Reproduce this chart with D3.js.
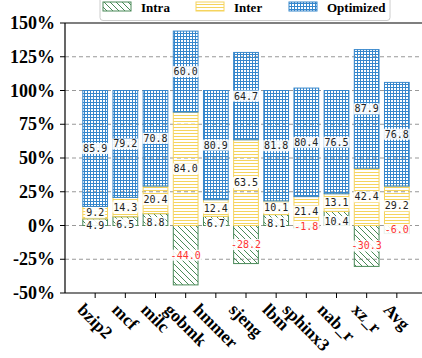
<!DOCTYPE html>
<html><head><meta charset="utf-8">
<script src="https://cdn.jsdelivr.net/npm/d3@7"></script>
<style>html,body{margin:0;padding:0;background:#fff;}</style>
</head><body>
<svg id="chart" width="422" height="358"></svg>
<script>
const categories = ["bzip2","mcf","milc","gobmk","hmmer","sjeng","lbm","sphinx3","nab_r","xz_r","Avg"];
const intra = [4.9, 6.5, 8.8, -44.0, 6.7, -28.2, 8.1, -1.8, 10.4, -30.3, -6.0];
const inter = [9.2, 14.3, 20.4, 84.0, 12.4, 63.5, 10.1, 21.4, 13.1, 42.4, 29.2];
const optimized = [85.9, 79.2, 70.8, 60.0, 80.9, 64.7, 81.8, 80.4, 76.5, 87.9, 76.8];
const yTicks = [-50, -25, 0, 25, 50, 75, 100, 125, 150];
const seriesNames = ["Intra", "Inter", "Optimized"];

const svg = d3.select("#chart");
const colors = {Intra: "#4a8a58", Inter: "#f5d45e", Optimized: "#3687cc"};
const serif = "'Liberation Serif','Times New Roman',serif";
const mono = "'DejaVu Sans Mono',monospace";

const x = d3.scaleLinear().domain([-1, 11]).range([65, 427]);
const y = d3.scaleLinear().domain([-50, 150]).range([293, 23]);
const barW = x(0.82) - x(0);

// patterns
const defs = svg.append("defs");
const pIntra = defs.append("pattern").attr("id","p-Intra").attr("patternUnits","userSpaceOnUse").attr("width",6).attr("height",6);
pIntra.append("path").attr("d","M0,0L6,6M-1,5L1,7M5,-1L7,1").attr("stroke",colors.Intra).attr("stroke-width",1).attr("fill","none");
const pInter = defs.append("pattern").attr("id","p-Inter").attr("patternUnits","userSpaceOnUse").attr("width",4).attr("height",3);
pInter.append("path").attr("d","M0,1.5H4").attr("stroke",colors.Inter).attr("stroke-width",1).attr("fill","none");
const pOpt = defs.append("pattern").attr("id","p-Optimized").attr("patternUnits","userSpaceOnUse").attr("width",3).attr("height",3);
pOpt.append("path").attr("d","M0,0.5H3M0.5,0V3").attr("stroke",colors.Optimized).attr("stroke-width",1).attr("fill","none");

// gridlines
svg.append("g").selectAll("line").data(yTicks.filter(t => t > -50 && t < 150)).join("line")
  .attr("x1", 65).attr("x2", 422).attr("y1", d => y(d)).attr("y2", d => y(d))
  .attr("stroke", "#999").attr("stroke-width", 1.1).attr("stroke-dasharray", "4,3");

// stacked segments
const segs = [];
const labels = [];
categories.forEach((c, i) => {
  const a = intra[i], b = inter[i], o = optimized[i];
  const base = a > 0 ? a : 0;
  segs.push({i, s: "Intra", y0: Math.min(0, a), y1: Math.max(0, a)});
  segs.push({i, s: "Inter", y0: base, y1: base + b});
  segs.push({i, s: "Optimized", y0: base + b, y1: base + b + o});
  labels.push({i, v: a, yc: a / 2, neg: a < 0, shift: a > 0 ? 3 : 0});
  labels.push({i, v: b, yc: base + b / 2, neg: false, shift: 0});
  labels.push({i, v: o, yc: base + b + o / 2, neg: false, shift: 0});
});

svg.append("g").selectAll("rect").data(segs).join("rect")
  .attr("x", d => x(d.i) - barW / 2).attr("width", barW)
  .attr("y", d => y(d.y1)).attr("height", d => y(d.y0) - y(d.y1))
  .attr("fill", d => `url(#p-${d.s})`).attr("stroke", d => colors[d.s]).attr("stroke-width", 1);

// axes spines
svg.append("line").attr("x1",65).attr("x2",65).attr("y1",23).attr("y2",293).attr("stroke","#000").attr("stroke-width",1.2);
svg.append("line").attr("x1",65).attr("x2",422).attr("y1",293).attr("y2",293).attr("stroke","#000").attr("stroke-width",1.2);
svg.append("line").attr("x1",65).attr("x2",422).attr("y1",23).attr("y2",23).attr("stroke","#000").attr("stroke-width",1.2);

// y ticks
const yg = svg.append("g");
yTicks.forEach(t => {
  yg.append("line").attr("x1",60).attr("x2",65).attr("y1",y(t)).attr("y2",y(t)).attr("stroke","#000");
  yg.append("text").attr("x",55).attr("y",y(t)).attr("text-anchor","end").attr("dominant-baseline","central")
    .attr("font-family",serif).attr("font-weight","bold").attr("font-size",18).text(t + "%");
});

// x ticks & labels
const xg = svg.append("g");
categories.forEach((c, i) => {
  xg.append("line").attr("x1",x(i)).attr("x2",x(i)).attr("y1",293).attr("y2",298).attr("stroke","#000");
  const t = xg.append("text").attr("text-anchor","middle").attr("dominant-baseline","central")
    .attr("font-family",serif).attr("font-weight","bold").attr("font-size",17.5).text(c);
  const w = t.node().getComputedTextLength();
  const h = 13;
  const half = (w + h) / (2 * Math.SQRT2);
  t.attr("transform", `translate(${x(i)},${302 + half}) rotate(45)`);
});

// value labels
const lg = svg.append("g");
labels.forEach(d => {
  const g = lg.append("g");
  const yy = y(d.yc) + d.shift;
  const t = g.append("text").attr("x", x(d.i)).attr("y", yy).attr("text-anchor","middle")
    .attr("dominant-baseline","central").attr("font-family",mono).attr("font-size",10)
    .attr("fill", d.neg ? "#ff3333" : "#222").text(d.v.toFixed(1));
  const bb = t.node().getBBox();
  g.insert("rect","text").attr("x", bb.x - 1).attr("y", yy - 5.5).attr("width", bb.width + 2).attr("height", 11)
    .attr("fill","#fff").attr("opacity",0.9);
});

// legend
const leg = svg.append("g");
leg.append("rect").attr("x",100).attr("y",-6).attr("width",290).attr("height",26.5).attr("rx",3)
  .attr("fill","#fff").attr("stroke","#ccc");
const legX = [103, 196, 289];
seriesNames.forEach((s, k) => {
  leg.append("rect").attr("x",legX[k]).attr("y",2).attr("width",28).attr("height",9)
    .attr("fill",`url(#p-${s})`).attr("stroke",colors[s]);
  leg.append("text").attr("x",legX[k] + 38).attr("y",7).attr("dominant-baseline","central")
    .attr("font-family",serif).attr("font-weight","bold").attr("font-size",13).text(s);
});
</script>
</body></html>
